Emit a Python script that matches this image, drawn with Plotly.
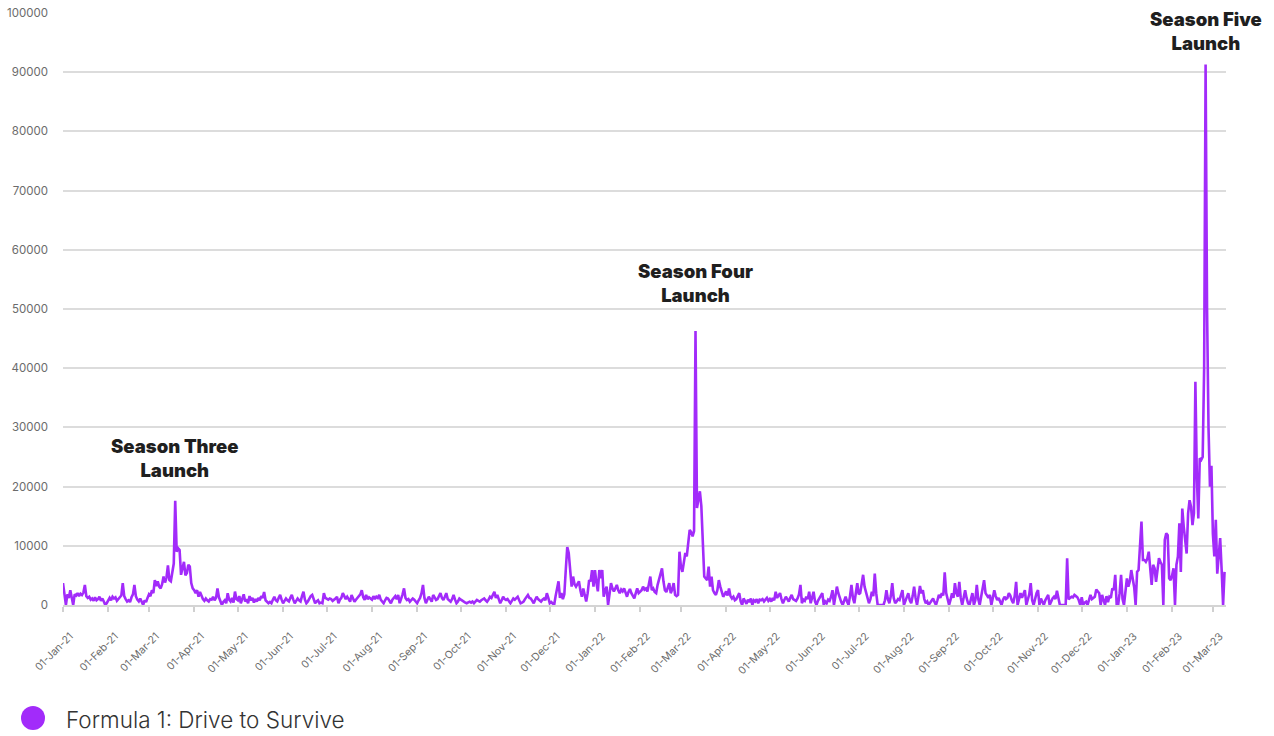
import pandas as pd
import plotly.graph_objects as go

# Daily values
jan21 = [3700, 2000, 0, 1800, 1200, 2500, 1500, 0, 1800, 1600, 2000, 1500, 1900, 1700, 2100, 3400, 1500, 1200, 1400, 900, 1100, 700, 1300, 800, 1000, 1400, 700, 1100, 600, 0, 300]
feb21 = [900, 1200, 800, 1400, 1100, 1300, 700, 1000, 1200, 1600, 3700, 1500, 1000, 600, 800, 500, 1300, 1800, 3400, 1500, 900, 600, 1100, 400, 0, 800, 500, 1200]
mar21 = [1800, 1500, 2500, 2000, 4200, 3200, 4000, 3100, 2800, 3500, 4800, 3800, 4600, 6700, 4200, 4000, 5900, 7000, 17600, 9000, 9600, 9300, 5100, 6000, 7300, 5000, 5400, 6800, 6500, 3700, 2800]
apr21 = [2500, 2000, 2500, 1400, 2200, 1500, 1000, 700, 1100, 800, 600, 1000, 900, 1400, 800, 1200, 2800, 1300, 700, 0, 500, 800, 300, 2000, 900, 600, 1200, 400, 2260, 1000]
may21 = [800, 1500, 300, 1200, 1800, 600, 1000, 300, 1500, 800, 1200, 400, 1000, 600, 1200, 800, 1500, 1200, 2200, 800, 600, 300, 500, 300, 900, 1400, 800, 600, 1200, 1700, 900]
jun21 = [300, 700, 1100, 800, 600, 1200, 1700, 900, 300, 700, 1100, 800, 600, 1500, 2250, 900, 300, 600, 1200, 1500, 1700, 800, 300, 600, 800, 300, 400, 300, 2000, 1200]
jul21 = [1100, 900, 1100, 1000, 700, 850, 1100, 1400, 300, 900, 1200, 2000, 1500, 1000, 1400, 900, 560, 1700, 1000, 560, 900, 1200, 1400, 1800, 2500, 1300, 850, 1700, 1000, 1300, 1100]
aug21 = [900, 1500, 1000, 1400, 1200, 1700, 900, 600, 300, 800, 1200, 1100, 700, 300, 900, 1200, 1500, 1000, 1700, 300, 900, 1800, 2800, 1200, 850, 1000, 560, 800, 1100, 900, 600]
sep21 = [300, 800, 1200, 2000, 3400, 1200, 300, 900, 1400, 1000, 560, 1700, 1200, 850, 1000, 1500, 2000, 1200, 850, 1400, 2000, 1000, 800, 560, 1000, 1700, 900, 300, 600, 1100]
oct21 = [900, 700, 560, 400, 300, 500, 560, 400, 600, 300, 500, 850, 700, 560, 800, 900, 1100, 800, 560, 900, 1400, 1200, 1800, 2250, 1200, 1700, 1000, 300, 800, 1400, 1000]
nov21 = [850, 1000, 600, 300, 700, 1100, 900, 1200, 1400, 800, 300, 400, 560, 1000, 1400, 1700, 1200, 1100, 700, 300, 900, 1400, 1000, 800, 560, 900, 1100, 800, 2000, 1200]
dec21 = [300, 500, 200, 0, 1500, 2500, 4000, 1200, 2000, 1000, 1800, 6000, 9800, 8800, 5000, 3100, 4800, 3500, 3100, 3600, 4000, 2500, 1400, 2800, 1800, 600, 2000, 4200, 4000, 5900, 3100]
jan22 = [5900, 3800, 2300, 5900, 4500, 5900, 1400, 2500, 3100, 0, 2000, 3700, 2800, 2300, 2800, 3400, 2500, 2000, 2600, 2300, 2800, 2000, 1400, 2200, 2700, 2000, 1500, 1100, 2000, 2800, 2000]
feb22 = [2300, 2500, 3100, 2600, 2800, 2300, 3500, 4800, 2500, 2800, 2200, 2000, 3400, 4500, 5200, 6200, 4000, 2500, 2200, 3000, 3700, 2000, 2600, 3700, 1700, 1500, 1700, 9000]
mar22 = [6500, 5600, 7500, 8800, 8200, 10500, 12700, 12300, 11600, 12500, 46300, 16400, 18000, 19200, 16700, 8800, 4800, 4500, 4200, 6500, 3100, 4800, 2500, 2000, 1700, 2500, 4200, 3100, 2200, 1400, 1800]
apr22 = [2300, 1600, 2800, 1500, 1100, 1400, 800, 1000, 1500, 2000, 600, 0, 1100, 700, 200, 900, 500, 1100, 0, 800, 600, 1000, 300, 900, 800, 1000, 600, 900, 1200, 700]
may22 = [1000, 600, 1200, 800, 2250, 1200, 1700, 2000, 1000, 300, 900, 1400, 1000, 600, 1200, 1700, 1000, 850, 700, 1100, 1800, 3400, 300, 900, 700, 1400, 1000, 2250, 300, 1200, 2250]
jun22 = [600, 0, 700, 1100, 1500, 2000, 0, 600, 300, 900, 700, 1400, 2500, 0, 1500, 3100, 2000, 1000, 500, 0, 800, 1400, 600, 0, 1500, 3400, 1200, 300, 2000, 3700]
jul22 = [1800, 2000, 3500, 5100, 3100, 2250, 1200, 300, 1000, 2250, 1500, 5300, 2000, 0, 0, 0, 0, 0, 800, 2500, 1000, 300, 1500, 3700, 1200, 300, 600, 1000, 850, 1500, 2500]
aug22 = [0, 600, 1200, 2000, 800, 300, 1500, 3100, 1200, 0, 1500, 3200, 2000, 2500, 1000, 300, 600, 0, 400, 800, 1100, 500, 0, 800, 1700, 1200, 2000, 1600, 5500, 2000, 800]
sep22 = [0, 900, 2000, 1200, 3700, 2000, 1400, 3900, 1200, 0, 1000, 2500, 1200, 300, 0, 1200, 2000, 0, 800, 3400, 1000, 0, 1500, 2600, 4200, 2000, 1500, 1200, 1700, 0]
oct22 = [1200, 2500, 1500, 850, 1200, 500, 0, 900, 1400, 1000, 1200, 2000, 1600, 800, 300, 1500, 3900, 0, 800, 2000, 1200, 1800, 2500, 0, 1100, 1800, 3700, 800, 0, 1200, 2000]
nov22 = [2500, 0, 1100, 600, 0, 800, 1200, 1700, 0, 600, 1100, 1400, 1000, 2400, 1200, 0, 0, 0, 0, 0, 7900, 950, 1200, 1400, 1300, 1700, 1500, 1300, 800, 0]
dec22 = [1300, 0, 400, 560, 0, 900, 1700, 1000, 1200, 1400, 2600, 2200, 2000, 0, 1700, 800, 0, 1500, 500, 1400, 1200, 2800, 2500, 5100, 0, 0, 2000, 5100, 1000, 0, 3000]
jan23 = [4500, 3100, 4000, 5900, 4500, 3000, 0, 5600, 5900, 10000, 14100, 7600, 7600, 7300, 7800, 9000, 5300, 3400, 6800, 6200, 3900, 6000, 7900, 7300, 6800, 0, 11000, 12100, 11800, 4500, 4200]
feb23 = [5000, 6200, 0, 6800, 8200, 13800, 5600, 16300, 13200, 11000, 8700, 15500, 17700, 16600, 13500, 15500, 37700, 21700, 14600, 24800, 24500, 25000, 40000, 91300, 50000, 30000, 20000, 23500]
mar23 = [12000, 8200, 14400, 5300, 8700, 11300, 6000, 0, 5600]

months = [
    ("2021-01-01", jan21), ("2021-02-01", feb21), ("2021-03-01", mar21), ("2021-04-01", apr21),
    ("2021-05-01", may21), ("2021-06-01", jun21), ("2021-07-01", jul21), ("2021-08-01", aug21),
    ("2021-09-01", sep21), ("2021-10-01", oct21), ("2021-11-01", nov21), ("2021-12-01", dec21),
    ("2022-01-01", jan22), ("2022-02-01", feb22), ("2022-03-01", mar22), ("2022-04-01", apr22),
    ("2022-05-01", may22), ("2022-06-01", jun22), ("2022-07-01", jul22), ("2022-08-01", aug22),
    ("2022-09-01", sep22), ("2022-10-01", oct22), ("2022-11-01", nov22), ("2022-12-01", dec22),
    ("2023-01-01", jan23), ("2023-02-01", feb23), ("2023-03-01", mar23),
]

series_name = "Formula 1: Drive to Survive"
launch_labels = ["Season Three<br>Launch", "Season Four<br>Launch", "Season Five<br>Launch"]
launch_dates = ["2021-03-19", "2022-03-11", "2023-02-24"]
launch_label_y = [24800, 54400, 97000]

dates, views = [], []
for start, vals in months:
    dates += list(pd.date_range(start, periods=len(vals), freq="D"))
    views += vals

PURPLE = "#A22BFA"
PLOT_W = 1274 - 63 - 48
PLOT_H = 736 - 13 - 131

fig = go.Figure()
fig.add_trace(go.Scatter(
    x=dates, y=views, mode="lines", name=series_name,
    line=dict(color=PURPLE, width=2.6), showlegend=False, hoverinfo="skip",
))

for txt, d, yv in zip(launch_labels, launch_dates, launch_label_y):
    fig.add_annotation(
        x=d, y=yv, text=txt, showarrow=False, xanchor="center", yanchor="middle",
        font=dict(family="Inter", size=18.5, color="#1f1f1f", weight=900),
    )

# custom legend: circle + text
fig.add_shape(
    type="circle", xref="paper", yref="paper", xsizemode="pixel", ysizemode="pixel",
    xanchor=(33 - 63) / PLOT_W, yanchor=(605 - 718) / PLOT_H, x0=-12, x1=12, y0=-12, y1=12,
    fillcolor=PURPLE, line=dict(color=PURPLE, width=0),
)
fig.add_annotation(
    xref="paper", yref="paper", x=(64 - 63) / PLOT_W, y=(605 - 719) / PLOT_H, text=series_name,
    showarrow=False, xanchor="left", yanchor="middle",
    font=dict(family="Inter", size=22.5, color="#333333", weight=300),
)

fig.update_layout(
    width=1274, height=736,
    margin=dict(l=63, r=48, t=13, b=131, autoexpand=False),
    paper_bgcolor="white", plot_bgcolor="white",
    font=dict(family="Inter", color="#666666"),
    showlegend=False,
)
fig.update_xaxes(
    range=["2021-01-01", "2023-03-10"], automargin=False,
    tick0="2021-01-01", dtick="M1", tickformat="%d-%b-%y", tickangle=-45,
    ticks="outside", ticklen=5, tickcolor="#d0d0d0", tickwidth=1.5,
    ticklabelstandoff=14, ticklabelshift=7,
    showgrid=False, showline=True, linecolor="#d4d4d4", linewidth=2,
    tickfont=dict(family="Inter", size=10.5, color="#6b6b6b"),
)
fig.update_yaxes(
    range=[0, 100000], dtick=10000, tickformat="d", automargin=False,
    showgrid=True, gridcolor="#dcdcdc", gridwidth=1.6, zeroline=False,
    ticks="", ticklabelstandoff=14,
    tickfont=dict(family="Inter", size=11.5, color="#6b6b6b"),
)

fig.write_html(
    "out.html",
    config={"displayModeBar": False},
    post_script="document.body.style.margin='0';document.body.style.overflow='hidden';",
)
